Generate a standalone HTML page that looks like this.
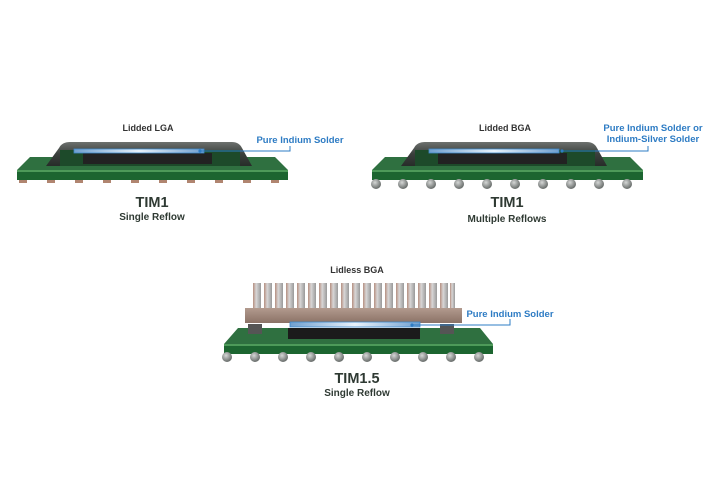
<!DOCTYPE html>
<html><head><meta charset="utf-8"><style>
html,body{margin:0;padding:0;background:#fff;}
svg{display:block;font-family:"Liberation Sans",Arial,sans-serif;}
</style></head><body>
<svg width="720" height="480" viewBox="0 0 720 480" xmlns="http://www.w3.org/2000/svg">
<defs>
<linearGradient id="lid" x1="0" y1="0" x2="0" y2="1"><stop offset="0" stop-color="#6d716e"/><stop offset="0.5" stop-color="#3a3f3c"/><stop offset="1" stop-color="#272c29"/></linearGradient>
<linearGradient id="band" x1="0" y1="0" x2="1" y2="0"><stop offset="0" stop-color="#6f9fcf"/><stop offset="0.5" stop-color="#e8f2fb"/><stop offset="1" stop-color="#6f9fcf"/></linearGradient>
<linearGradient id="cu" x1="0" y1="0" x2="0" y2="1"><stop offset="0" stop-color="#b29a8e"/><stop offset="1" stop-color="#8b7266"/></linearGradient>
<linearGradient id="fin" x1="0" y1="0" x2="1" y2="0"><stop offset="0" stop-color="#b58f80"/><stop offset="0.4" stop-color="#d8d6d6"/><stop offset="1" stop-color="#9a9a9a"/></linearGradient>
<radialGradient id="ball" cx="0.4" cy="0.35" r="0.7"><stop offset="0" stop-color="#d5d7d6"/><stop offset="1" stop-color="#5d6260"/></radialGradient>
</defs>

<!-- Panel 1 -->
<g>
<polygon points="30,157 275,157 288,170 17,170" fill="#2f7040"/>
<rect x="17" y="170" width="271" height="10" fill="#1c6530"/>
<rect x="17" y="170" width="271" height="2" fill="#4d9a59"/>
<g fill="#b08570">
<rect x="19" y="180" width="8" height="3"/><rect x="47" y="180" width="8" height="3"/><rect x="75" y="180" width="8" height="3"/><rect x="103" y="180" width="8" height="3"/><rect x="131" y="180" width="8" height="3"/><rect x="159" y="180" width="8" height="3"/><rect x="187" y="180" width="8" height="3"/><rect x="215" y="180" width="8" height="3"/><rect x="243" y="180" width="8" height="3"/><rect x="271" y="180" width="8" height="3"/>
</g>
<path d="M46,166 L59,148 Q62,142 70,142 L232,142 Q239,142 242,148 L252,166 L240,166 L231,150 L72,150 L60,166 Z" fill="url(#lid)"/>
<rect x="60" y="150" width="180" height="16" fill="#1d4a2a"/>
<rect x="83" y="153" width="129" height="11" fill="#222"/>
<rect x="74" y="149" width="130" height="4" fill="url(#band)" stroke="#3c87c8" stroke-width="0.8"/>
<polyline points="200,151 290,151 290,146" fill="none" stroke="#2e7cc4" stroke-width="1"/>
<circle cx="200" cy="151" r="1.6" fill="#2e7cc4"/>
<text x="148" y="131" font-size="9" font-weight="bold" fill="#333" text-anchor="middle">Lidded LGA</text>
<text x="300" y="143" font-size="9.5" font-weight="bold" fill="#2e7cc4" text-anchor="middle">Pure Indium Solder</text>
<text x="152" y="207" font-size="14.5" font-weight="bold" fill="#2f3a33" text-anchor="middle">TIM1</text>
<text x="152" y="220" font-size="10" font-weight="bold" fill="#2f3a33" text-anchor="middle">Single Reflow</text>
</g>

<!-- Panel 2 -->
<g>
<polygon points="385,157 630,157 643,170 372,170" fill="#2f7040"/>
<rect x="372" y="170" width="271" height="10" fill="#1c6530"/>
<rect x="372" y="170" width="271" height="2" fill="#4d9a59"/>
<g fill="url(#ball)">
<circle cx="376" cy="184" r="5"/><circle cx="403" cy="184" r="5"/><circle cx="431" cy="184" r="5"/><circle cx="459" cy="184" r="5"/><circle cx="487" cy="184" r="5"/><circle cx="515" cy="184" r="5"/><circle cx="543" cy="184" r="5"/><circle cx="571" cy="184" r="5"/><circle cx="599" cy="184" r="5"/><circle cx="627" cy="184" r="5"/>
</g>
<path d="M401,166 L414,148 Q417,142 425,142 L587,142 Q594,142 597,148 L607,166 L595,166 L586,150 L427,150 L415,166 Z" fill="url(#lid)"/>
<rect x="415" y="150" width="180" height="16" fill="#1d4a2a"/>
<rect x="438" y="153" width="129" height="11" fill="#222"/>
<rect x="429" y="149" width="130" height="4" fill="url(#band)" stroke="#3c87c8" stroke-width="0.8"/>
<polyline points="562,151 648,151 648,146" fill="none" stroke="#2e7cc4" stroke-width="1"/>
<circle cx="562" cy="151" r="1.6" fill="#2e7cc4"/>
<text x="505" y="131" font-size="9" font-weight="bold" fill="#333" text-anchor="middle">Lidded BGA</text>
<text x="653" y="131" font-size="9.5" font-weight="bold" fill="#2e7cc4" text-anchor="middle">Pure Indium Solder or</text>
<text x="653" y="142" font-size="9.5" font-weight="bold" fill="#2e7cc4" text-anchor="middle">Indium-Silver Solder</text>
<text x="507" y="207" font-size="14.5" font-weight="bold" fill="#2f3a33" text-anchor="middle">TIM1</text>
<text x="507" y="222" font-size="10" font-weight="bold" fill="#2f3a33" text-anchor="middle">Multiple Reflows</text>
</g>

<!-- Panel 3 -->
<g>
<polygon points="238,328 480,328 493,344 224,344" fill="#2f7040"/>
<rect x="224" y="344" width="269" height="10" fill="#1c6530"/>
<rect x="224" y="344" width="269" height="2" fill="#4d9a59"/>
<g fill="url(#ball)">
<circle cx="227" cy="357" r="5"/><circle cx="255" cy="357" r="5"/><circle cx="283" cy="357" r="5"/><circle cx="311" cy="357" r="5"/><circle cx="339" cy="357" r="5"/><circle cx="367" cy="357" r="5"/><circle cx="395" cy="357" r="5"/><circle cx="423" cy="357" r="5"/><circle cx="451" cy="357" r="5"/><circle cx="479" cy="357" r="5"/>
</g>
<rect x="248" y="324" width="14" height="10" fill="#555"/>
<rect x="440" y="324" width="14" height="10" fill="#555"/>
<g fill="url(#fin)">
<rect x="253" y="283" width="8" height="26"/><rect x="264" y="283" width="8" height="26"/><rect x="275" y="283" width="8" height="26"/><rect x="286" y="283" width="8" height="26"/><rect x="297" y="283" width="8" height="26"/><rect x="308" y="283" width="8" height="26"/><rect x="319" y="283" width="8" height="26"/><rect x="330" y="283" width="8" height="26"/><rect x="341" y="283" width="8" height="26"/><rect x="352" y="283" width="8" height="26"/><rect x="363" y="283" width="8" height="26"/><rect x="374" y="283" width="8" height="26"/><rect x="385" y="283" width="8" height="26"/><rect x="396" y="283" width="8" height="26"/><rect x="407" y="283" width="8" height="26"/><rect x="418" y="283" width="8" height="26"/><rect x="429" y="283" width="8" height="26"/><rect x="440" y="283" width="8" height="26"/><rect x="450" y="283" width="5" height="26"/>
</g>
<rect x="245" y="308" width="217" height="15" fill="url(#cu)"/>
<rect x="288" y="328" width="132" height="11" fill="#1b1b1b"/>
<rect x="290" y="322" width="130" height="5" fill="url(#band)" stroke="#3c87c8" stroke-width="0.8"/>
<polyline points="412,325 510,325 510,319" fill="none" stroke="#2e7cc4" stroke-width="1"/>
<circle cx="412" cy="325" r="1.6" fill="#2e7cc4"/>
<text x="357" y="273" font-size="9" font-weight="bold" fill="#333" text-anchor="middle">Lidless BGA</text>
<text x="510" y="317" font-size="9.5" font-weight="bold" fill="#2e7cc4" text-anchor="middle">Pure Indium Solder</text>
<text x="357" y="383" font-size="14.5" font-weight="bold" fill="#2f3a33" text-anchor="middle">TIM1.5</text>
<text x="357" y="396" font-size="10" font-weight="bold" fill="#2f3a33" text-anchor="middle">Single Reflow</text>
</g>
</svg>
</body></html>
